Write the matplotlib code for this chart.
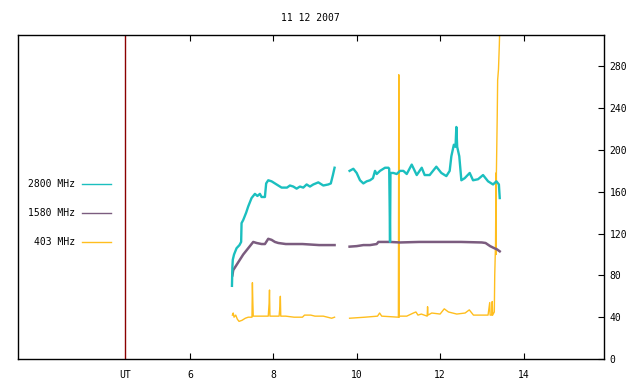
import numpy as np
import matplotlib
matplotlib.use("Agg")
import matplotlib.pyplot as plt
from matplotlib.lines import Line2D

# --- data (hours UT, flux) ---
t2800_a = [7.01, 7.02, 7.03, 7.06, 7.12, 7.19, 7.23, 7.24, 7.28, 7.35, 7.40, 7.48, 7.56, 7.62,
           7.68, 7.72, 7.80, 7.83, 7.88, 7.96, 8.04, 8.12, 8.20, 8.33, 8.40, 8.48, 8.56, 8.64,
           8.72, 8.80, 8.88, 8.96, 9.08, 9.20, 9.32, 9.38, 9.43, 9.47]
f2800_a = [70, 88, 95, 100, 106, 109, 112, 130, 133, 140, 146, 154, 158, 156,
           158, 155, 155, 168, 171, 170, 168, 166, 164, 164, 166, 165, 163, 165,
           164, 167, 165, 167, 169, 166, 167, 168, 176, 183]
t2800_b = [9.83, 9.92, 10.00, 10.08, 10.16, 10.24, 10.32, 10.39, 10.44, 10.48, 10.56, 10.68,
           10.76, 10.78, 10.79, 10.80, 10.81, 10.88, 10.96, 11.04, 11.12, 11.20, 11.32, 11.44,
           11.56, 11.63, 11.75, 11.91, 12.03, 12.15, 12.23, 12.27, 12.33, 12.37, 12.39, 12.41,
           12.46, 12.51, 12.59, 12.71, 12.79, 12.91, 13.03, 13.15, 13.27, 13.35, 13.41, 13.43]
f2800_b = [180, 182, 178, 171, 168, 170, 171, 173, 180, 177, 180, 183,
           183, 182, 150, 112, 178, 178, 177, 180, 180, 177, 186, 176,
           183, 176, 176, 184, 178, 175, 180, 194, 205, 203, 222, 203,
           194, 171, 173, 178, 171, 172, 176, 170, 167, 170, 167, 154]

t1580_a = [7.02, 7.04, 7.12, 7.20, 7.28, 7.36, 7.44, 7.52, 7.60, 7.72, 7.80, 7.88, 7.96,
           8.04, 8.12, 8.30, 8.50, 8.70, 8.90, 9.10, 9.30, 9.47]
f1580_a = [80, 85, 90, 95, 100, 104, 108, 112, 111, 110, 110, 115, 114,
           112, 111, 110, 110, 110, 109.5, 109, 109, 109]
t1580_b = [9.83, 10.00, 10.16, 10.32, 10.48, 10.52, 10.60, 10.80, 11.04, 11.50, 12.00,
           12.50, 13.00, 13.09, 13.20, 13.30, 13.36, 13.43]
f1580_b = [107.5, 108, 109, 109, 110, 112, 112, 112, 111.5, 112, 112,
           112, 111.5, 111, 108, 106, 105, 103]

t403_a = [7.02, 7.04, 7.06, 7.10, 7.14, 7.18, 7.25, 7.33, 7.40, 7.49, 7.50, 7.51, 7.52,
          7.60, 7.75, 7.88, 7.90, 7.91, 7.92, 8.05, 8.14, 8.16, 8.17, 8.18, 8.30, 8.50,
          8.70, 8.75, 8.90, 9.00, 9.20, 9.30, 9.40, 9.47]
f403_a = [42, 44, 40, 42, 38, 36, 37, 39, 40, 40, 73, 55, 41,
          41, 41, 41, 53, 66, 41, 41, 41, 50, 60, 41, 41, 40,
          40, 42, 42, 41, 41, 40, 39, 40]
t403_b = [9.83, 10.20, 10.50, 10.55, 10.60, 11.00, 11.01, 11.02, 11.03, 11.20, 11.36, 11.42,
          11.47, 11.55, 11.69, 11.70, 11.71, 11.80, 12.00, 12.10, 12.20, 12.40, 12.60, 12.70,
          12.80, 13.00, 13.15, 13.19, 13.20, 13.24, 13.25, 13.26, 13.30, 13.31, 13.33, 13.34,
          13.345, 13.35, 13.37, 13.38, 13.40, 13.42, 13.44]
f403_b = [39, 40, 41, 44, 41, 40, 272, 40, 41, 41, 44, 45,
          42, 43, 41, 50, 42, 44, 43, 48, 45, 43, 44, 47,
          42, 42, 42, 54, 42, 42, 55, 42, 45, 80, 111, 178,
          100, 178, 232, 267, 277, 300, 330]

ut_pos = 4.44
xticks = [6, 8, 10, 12, 14]
yticks = [0, 40, 80, 120, 160, 200, 240, 280]

c2800 = '#1bbfbf'
c1580 = '#7b5c7f'
c403 = '#ffbe1e'

plt.rcParams['font.family'] = 'DejaVu Sans Mono'
plt.rcParams['font.size'] = 7

fig = plt.figure(figsize=(6.4, 3.84), dpi=100)
ax = fig.add_axes([18/640, 1 - 359/384, 586/640, 324/384])

ax.plot(t403_a, f403_a, color=c403, lw=1.0)
ax.plot(t403_b, f403_b, color=c403, lw=1.0)
ax.plot(t1580_a, f1580_a, color=c1580, lw=1.8)
ax.plot(t1580_b, f1580_b, color=c1580, lw=1.8)
ax.plot(t2800_a, f2800_a, color=c2800, lw=1.7)
ax.plot(t2800_b, f2800_b, color=c2800, lw=1.7)

ax.axvline(ut_pos, color='#8b0000', lw=1.0)

ax.set_xlim(1.88, 15.93)
ax.set_ylim(0, 310)

ax.set_xticks(xticks)
ax.set_xticks([ut_pos], ['UT'], minor=True)
ax.set_yticks(yticks)
ax.yaxis.tick_right()
ax.tick_params(axis='x', which='major', direction='in', length=4, width=0.8,
               top=True, bottom=True, pad=8)
ax.tick_params(axis='x', which='minor', length=0, pad=8)
ax.tick_params(axis='y', direction='in', length=4, width=0.8, right=True, left=False, pad=4)
for s in ax.spines.values():
    s.set_linewidth(1.0)

fig.text(310/640, 1 - 18/384, '11 12 2007', ha='center', va='center')

# legend drawn by hand on the left side
for label, col, ypix in [('2800 MHz', c2800, 184), ('1580 MHz', c1580, 213), ('403 MHz', c403, 242)]:
    yf = 1 - ypix/384
    fig.text(75/640, yf, label, ha='right', va='center')
    fig.add_artist(Line2D([82/640, 111/640], [yf, yf], color=col, lw=1.0))

fig.savefig('out.png', dpi=100)
